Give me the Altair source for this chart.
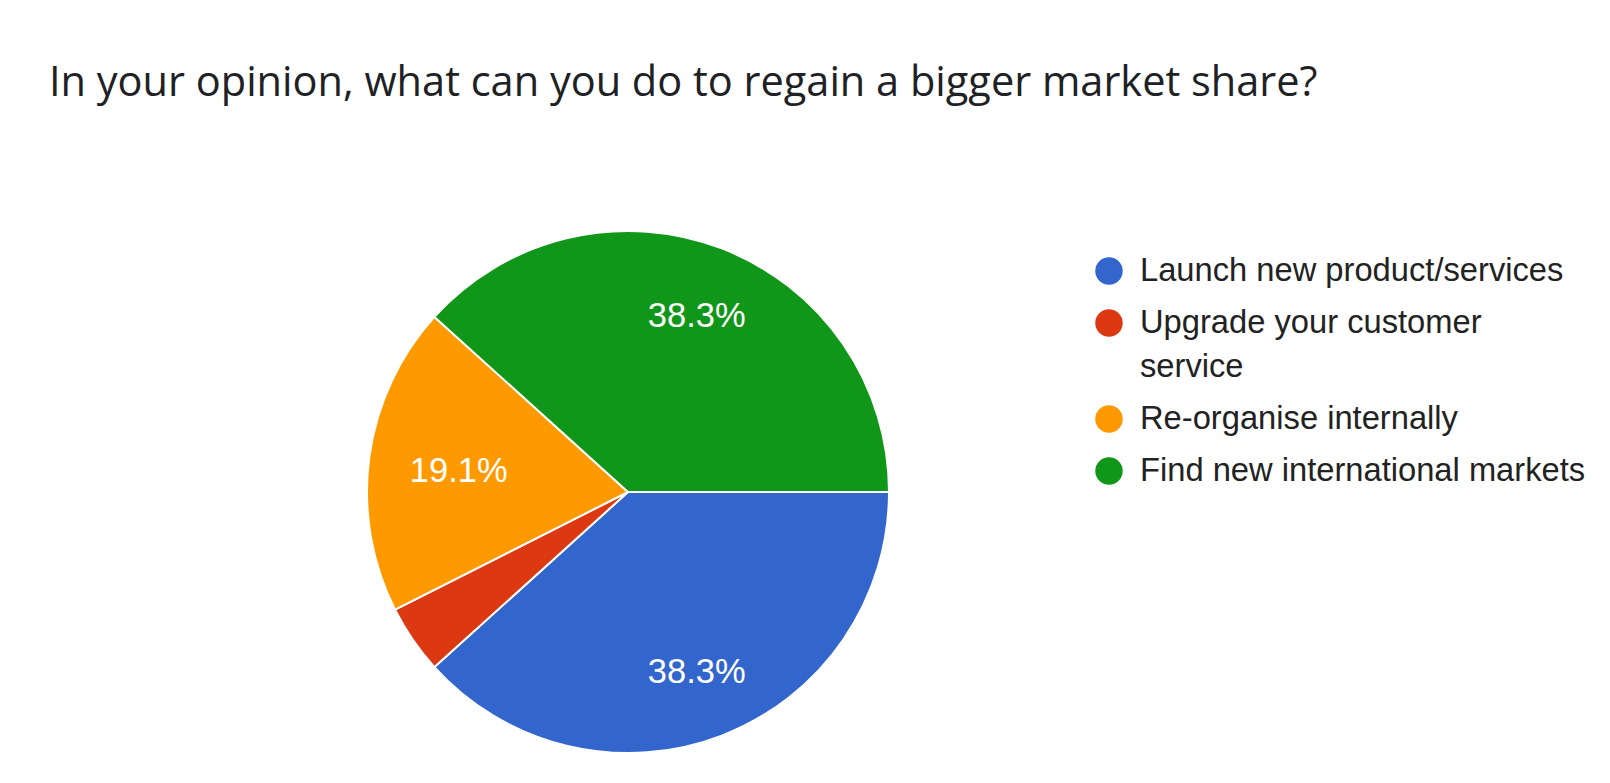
import math
import altair as alt
import pandas as pd

title_text = "In your opinion, what can you do to regain a bigger market share?"
categories = [
    "Launch new product/services",
    "Upgrade your customer service",
    "Re-organise internally",
    "Find new international markets",
]
legend_labels = [
    "Launch new product/services",
    "Upgrade your customer\nservice",
    "Re-organise internally",
    "Find new international markets",
]
counts = [18, 2, 9, 18]
colors = ["#3366cc", "#dc3912", "#ff9900", "#109618"]

df = pd.DataFrame({
    "answer": categories,
    "legend_label": legend_labels,
    "count": counts,
    "order": list(range(len(categories))),
})

theta_scale = alt.Scale(range=[math.pi / 2, math.pi / 2 + 2 * math.pi])
color_scale = alt.Scale(domain=categories, range=colors)
CX, CY = 620, 374          # pie centre inside the plot area
PIE_R = 261
LABEL_OUTER, LABEL_HW, LABEL_HH = 220, 48, 12.5   # slice-label box placement
LEG_SYM_X, LEG_TXT_X = 1101, 1132
ITEM_GAP, LINE_GAP = 52, 44
LEG_TOP = 153

base = alt.Chart(df).encode(
    theta=alt.Theta("count:Q", stack=True, scale=theta_scale),
    order=alt.Order("order:Q"),
)

pie = base.mark_arc(radius=PIE_R, stroke="white", strokeWidth=2).encode(
    x=alt.value(CX),
    y=alt.value(CY),
    color=alt.Color("answer:N", scale=color_scale, legend=None),
)

labels = alt.Chart(df).transform_joinaggregate(
    total="sum(count)"
).transform_window(
    cum="sum(count)", sort=[alt.SortField("order")], frame=[None, 0]
).transform_calculate(
    pct="datum.count / datum.total",
    pct_label="format(datum.count / datum.total, '.1%')",
    ang="PI / 2 + 2 * PI * (datum.cum - datum.count / 2) / datum.total",
).transform_calculate(
    r=f"{LABEL_OUTER} - {LABEL_HW} * abs(sin(datum.ang)) - {LABEL_HH} * abs(cos(datum.ang))"
).transform_calculate(
    px=f"{CX} + datum.r * sin(datum.ang)",
    py=f"{CY} - datum.r * cos(datum.ang)",
).transform_filter(
    "datum.pct >= 0.05"
).mark_text(
    font="Liberation Sans", fontSize=34.5, color="white", align="center", baseline="middle", dy=3
).encode(
    x=alt.X("px:Q", scale=None, axis=None),
    y=alt.Y("py:Q", scale=None, axis=None),
    text="pct_label:N",
)

leg_base = alt.Chart(df).transform_calculate(
    extra="length(split(datum.legend_label, '\\n')) - 1"
).transform_window(
    idx="row_number()", extra_cum="sum(extra)", sort=[alt.SortField("order")], frame=[None, 0]
).transform_calculate(
    ypos=f"{LEG_TOP} + (datum.idx - 1) * {ITEM_GAP} + (datum.extra_cum - datum.extra) * {LINE_GAP}"
).encode(
    y=alt.Y("ypos:Q", axis=None, scale=None),
)

leg_sym = leg_base.mark_circle(size=755, opacity=1).encode(
    x=alt.value(LEG_SYM_X),
    color=alt.Color("answer:N", scale=color_scale, legend=None),
)

leg_txt = leg_base.mark_text(
    align="left", baseline="middle", font="Liberation Sans", fontSize=32.7,
    color="#222222", lineBreak="\n", lineHeight=LINE_GAP,
).encode(
    x=alt.value(LEG_TXT_X),
    text="legend_label:N",
)

chart = (
    alt.layer(pie, labels, leg_sym, leg_txt)
    .properties(
        width=1594,
        height=657,
        autosize="none",
        padding={"top": 110, "left": 0, "right": 0, "bottom": 0},
        title=alt.TitleParams(
            text=title_text,
            anchor="start",
            frame="group",
            font="Open Sans",
            fontSize=41.5,
            fontWeight="normal",
            color="#202124",
            baseline="alphabetic",
            offset=22,
            dx=41,
            dy=41,
        ),
    )
    .configure_view(stroke=None)
)

chart.save("out.html", embed_options={"renderer": "svg", "actions": False})
